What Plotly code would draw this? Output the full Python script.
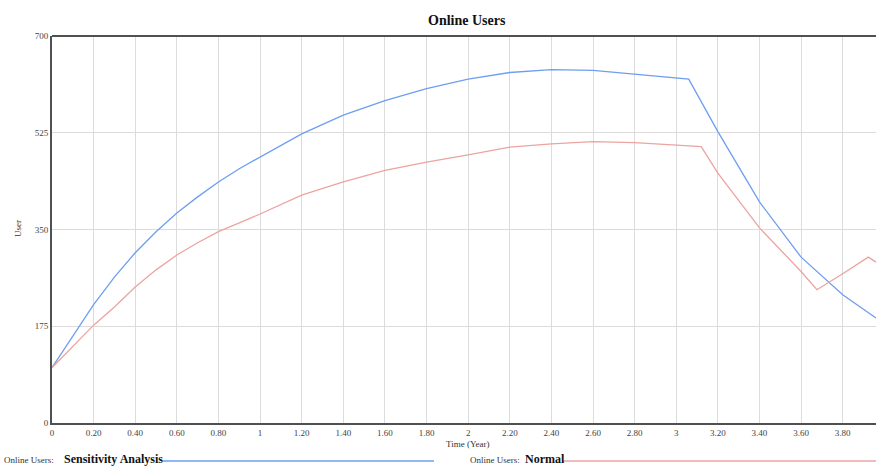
import plotly.graph_objects as go

# ---- data ----
t_sens = [0, 0.1, 0.2, 0.3, 0.4, 0.5, 0.6, 0.7, 0.8, 0.9, 1.0, 1.2, 1.4, 1.6, 1.8,
          2.0, 2.2, 2.4, 2.6, 2.8, 3.0, 3.06, 3.2, 3.4, 3.6, 3.8, 3.96]
v_sens = [100, 157, 214, 264, 308, 346, 380, 409, 436, 460, 481, 523, 557, 583, 605,
          622, 634, 639, 638, 631, 625, 622, 527, 400, 300, 232, 190]

t_norm = [0, 0.1, 0.2, 0.3, 0.4, 0.5, 0.6, 0.7, 0.8, 0.9, 1.0, 1.2, 1.4, 1.6, 1.8,
          2.0, 2.2, 2.4, 2.6, 2.8, 3.0, 3.12, 3.2, 3.4, 3.6, 3.676, 3.8, 3.923, 3.96]
v_norm = [100, 138, 177, 210, 246, 277, 304, 326, 346, 362, 378, 412, 436, 457, 472,
          485, 499, 505, 509, 507, 503, 500, 452, 353, 274, 241, 270, 300, 291]

x_ticks = [0, 0.2, 0.4, 0.6, 0.8, 1, 1.2, 1.4, 1.6, 1.8, 2, 2.2, 2.4, 2.6, 2.8, 3,
           3.2, 3.4, 3.6, 3.8]
x_labels = ["0", "0.20", "0.40", "0.60", "0.80", "1", "1.20", "1.40", "1.60", "1.80",
            "2", "2.20", "2.40", "2.60", "2.80", "3", "3.20", "3.40", "3.60", "3.80"]
y_ticks = [0, 175, 350, 525, 700]

title = "Online Users"
x_title = "Time (Year)"
y_title = "User"
series_prefix = "Online Users:"
series_names = ["Sensitivity Analysis", "Normal"]
colors = ["#6e9ef0", "#eba4a0"]

# ---- layout geometry (pixels) ----
W, H = 876, 466
L, R, T, B = 52, 0, 36, 43
pw, ph = W - L - R, H - T - B

def px(x):
    return (x - L) / pw

def py(y):
    return (H - B - y) / ph

SERIF = "Liberation Serif, Times New Roman, serif"

fig = go.Figure()
fig.add_trace(go.Scatter(x=t_sens, y=v_sens, mode="lines", name=series_names[0],
                         line=dict(color=colors[0], width=1.3)))
fig.add_trace(go.Scatter(x=t_norm, y=v_norm, mode="lines", name=series_names[1],
                         line=dict(color=colors[1], width=1.3)))

fig.update_layout(
    width=W, height=H,
    margin=dict(l=L, r=R, t=T, b=B, pad=0),
    paper_bgcolor="white", plot_bgcolor="white",
    showlegend=False,
    font=dict(family=SERIF, size=9, color="#333"),
    xaxis=dict(range=[0, 3.96], tickvals=x_ticks, ticktext=x_labels,
               showgrid=True, gridcolor="#dcdcdc", gridwidth=1,
               showline=True, linecolor="#505050", linewidth=2,
               zeroline=False, ticks="", ticklen=0,
               tickfont=dict(family=SERIF, size=9, color="#444")),
    yaxis=dict(range=[0, 700], tickvals=y_ticks,
               showgrid=True, gridcolor="#dcdcdc", gridwidth=1,
               showline=True, linecolor="#505050", linewidth=2,
               zeroline=False, ticks="", ticklen=0,
               tickfont=dict(family=SERIF, size=9, color="#444")),
)

# top border
fig.add_shape(type="line", xref="paper", yref="paper", x0=0, x1=1, y0=1, y1=1,
              line=dict(color="#505050", width=2))

# title and axis titles
fig.add_annotation(text="<b>" + title + "</b>", xref="paper", yref="paper",
                   x=px(467), y=py(20), xanchor="center", yanchor="middle",
                   showarrow=False, font=dict(family=SERIF, size=14, color="#111"))
fig.add_annotation(text=x_title, xref="paper", yref="paper",
                   x=px(468), y=py(444), xanchor="center", yanchor="middle",
                   showarrow=False, font=dict(family=SERIF, size=9, color="#333"))
fig.add_annotation(text=y_title, xref="paper", yref="paper",
                   x=px(18), y=py(229), xanchor="center", yanchor="middle",
                   textangle=-90, showarrow=False,
                   font=dict(family=SERIF, size=9, color="#333"))

# custom legend
legend_rows = [
    (3, 63, 163, 434, 460),
    (469, 524, 563, 876, 460),
]
for (x_pref, x_name, x_l0, x_l1, yy), name, col in zip(legend_rows, series_names, colors):
    fig.add_annotation(text=series_prefix, xref="paper", yref="paper",
                       x=px(x_pref - 1), y=py(yy), xanchor="left", yanchor="middle",
                       showarrow=False, font=dict(family=SERIF, size=9, color="#333"))
    fig.add_annotation(text="<b>" + name + "</b>", xref="paper", yref="paper",
                       x=px(x_name - 1), y=py(yy - 1), xanchor="left", yanchor="middle",
                       showarrow=False, font=dict(family=SERIF, size=12, color="#111"))
    fig.add_shape(type="line", xref="paper", yref="paper",
                  x0=px(x_l0), x1=px(x_l1), y0=py(yy + 1), y1=py(yy + 1),
                  line=dict(color=col, width=1.3))

fig.write_html("out.html",
               config={"displayModeBar": False},
               post_script="document.body.style.margin='0px';"
                           "document.body.style.overflow='hidden';")
